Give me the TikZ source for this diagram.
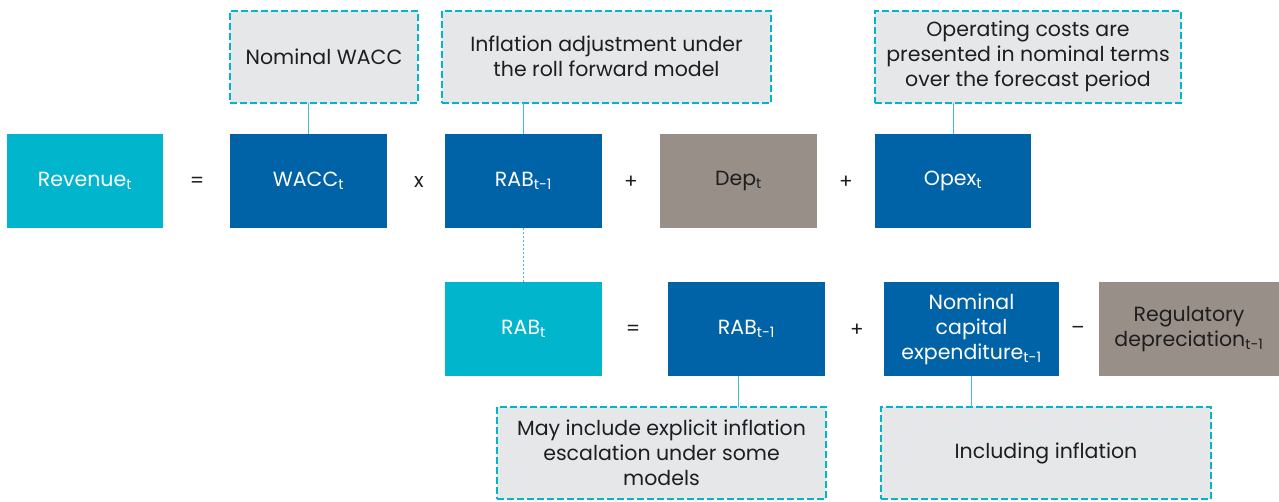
\documentclass[tikz,border=0pt]{standalone}
\usepackage{fontspec}
\setmainfont{Poppins}
\definecolor{cyanb}{HTML}{00B5CC}
\definecolor{blueb}{HTML}{0062A7}
\definecolor{grayb}{HTML}{998F89}
\definecolor{callfill}{HTML}{E6E7E8}
\definecolor{linec}{HTML}{3CBFD1}
\definecolor{txt}{HTML}{1E1E1E}
\begin{document}
\begin{tikzpicture}[x=1pt,y=-1pt,
  base/.style={inner sep=0pt, outer sep=0pt, minimum height=94pt, align=center,
    font=\fontsize{20.5}{25}\selectfont},
  cbox/.style={base, fill=cyanb, text=white},
  bbox/.style={base, fill=blueb, text=white},
  gbox/.style={base, fill=grayb, text=txt},
  callout/.style={base, fill=callfill, draw=cyanb, line width=2pt,
    dash pattern=on 7pt off 3pt, text=txt, minimum height=92pt},
  op/.style={font=\fontsize{20}{22}\selectfont, text=txt},
  conn/.style={draw=linec, line width=1pt}]
\useasboundingbox (0,0) rectangle (1279,501);
% top row
\node[cbox, minimum width=156pt] (rev) at (85,181) {Revenue\textsubscript{t}};
\node[op] (eq1) at (197,182) {=};
\node[bbox, minimum width=157pt] (wacc) at (308.5,181) {WACC\textsubscript{t}};
\node[op] (times) at (419,182) {x};
\node[bbox, minimum width=157pt] (rab1) at (523.5,181) {RAB\textsubscript{t-1}};
\node[op] (plus1) at (631,182) {+};
\node[gbox, minimum width=157pt] (dep) at (738.5,181) {Dep\textsubscript{t}};
\node[op] (plus2) at (846,182) {+};
\node[bbox, minimum width=156pt] (opex) at (953,181) {Opex\textsubscript{t}};
% top callouts
\node[callout, minimum width=188pt] (cwacc) at (324,56.5) {Nominal WACC};
\node[callout, minimum width=329pt] (cinfl) at (606.5,56.5) {Inflation adjustment under\\the roll forward model};
\node[callout, minimum width=306pt] (copex) at (1028,56.5) {Operating costs are\\presented in nominal terms\\over the forecast period};
% bottom row
\node[cbox, minimum width=157pt] (rabt) at (523.5,329) {RAB\textsubscript{t}};
\node[op] (eq2) at (633,330) {=};
\node[bbox, minimum width=157pt] (rab2) at (746.5,329) {RAB\textsubscript{t-1}};
\node[op] (plus3) at (857,330) {+};
\node[bbox, minimum width=175pt] (capex) at (971.5,329) {Nominal\\capital\\expenditure\textsubscript{t-1}};
\node[op] (minus) at (1078,330) {–};
\node[gbox, minimum width=180pt] (reg) at (1189,329) {Regulatory\\depreciation\textsubscript{t-1}};
% bottom callouts
\node[callout, minimum width=329pt] (cmay) at (661.5,453) {May include explicit inflation\\escalation under some\\models};
\node[callout, minimum width=330pt] (cincl) at (1046,453) {Including inflation};
% connectors
\draw[conn] (wacc.north) -- (wacc.north |- cwacc.south);
\draw[conn] (rab1.north) -- (rab1.north |- cinfl.south);
\draw[conn] (opex.north) -- (opex.north |- copex.south);
\draw[draw=linec, line width=0.6pt, dash pattern=on 2pt off 2pt] (rab1.south) -- (rabt.north);
\coordinate (rab2b) at ([xshift=-8.5pt]rab2.south);
\draw[conn] (rab2b) -- (rab2b |- cmay.north);
\draw[conn] (capex.south) -- (capex.south |- cincl.north);
\end{tikzpicture}
\end{document}
